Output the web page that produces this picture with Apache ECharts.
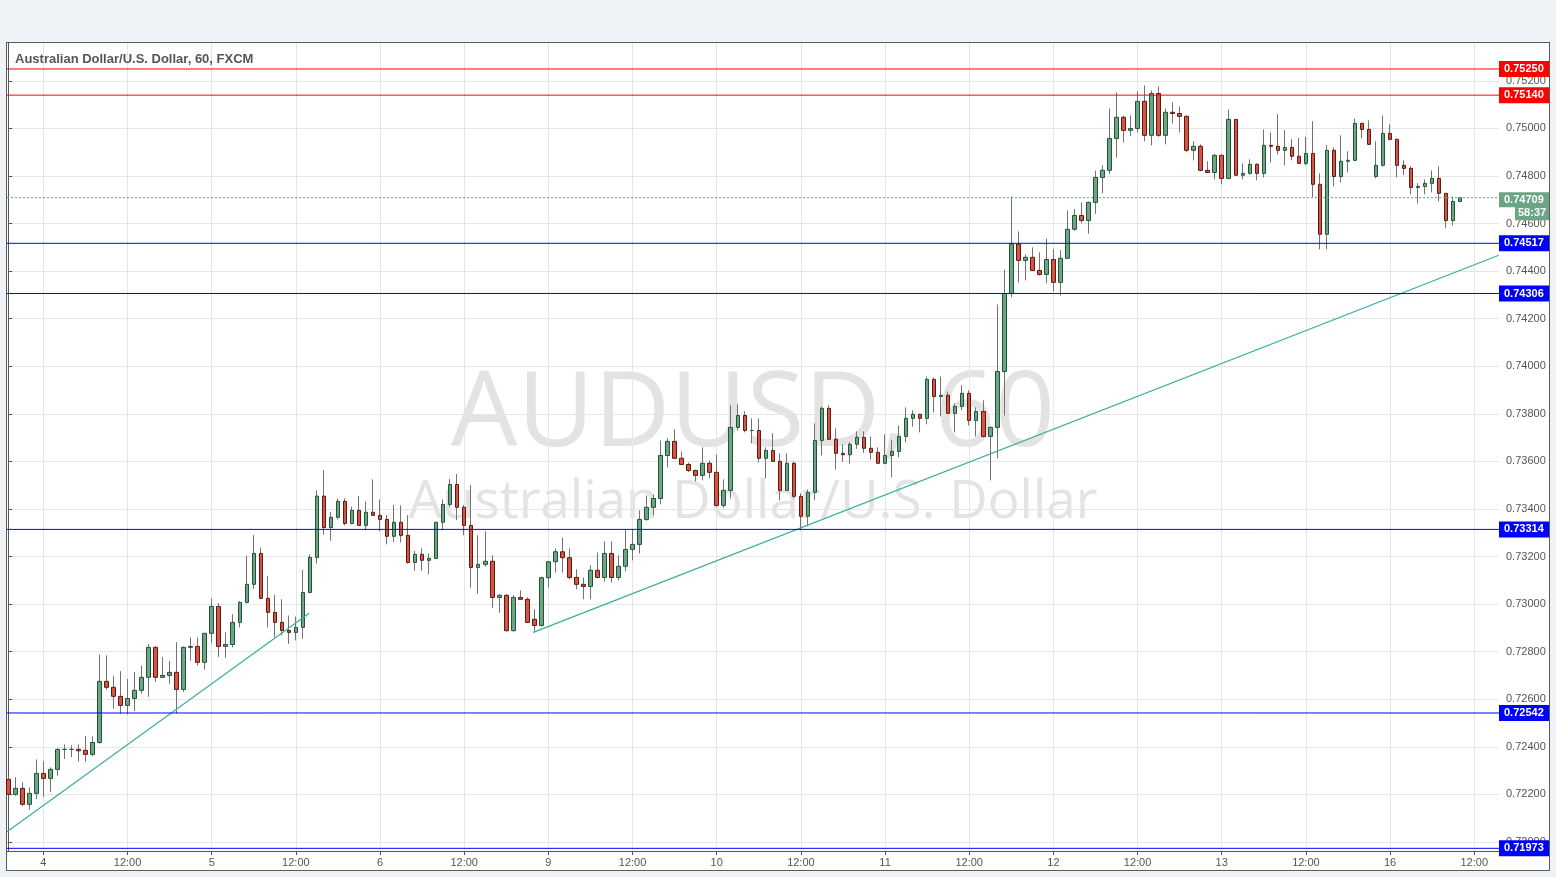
<!DOCTYPE html>
<html>
<head>
<meta charset="utf-8">
<script src="https://cdn.jsdelivr.net/npm/echarts@6/dist/echarts.min.js"></script>
<style>
html,body{margin:0;padding:0;background:#eff2f6;}
#frame{position:absolute;left:6px;top:42px;width:1544px;height:829px;border:1px solid #5a5a5a;box-sizing:border-box;background:#fff;}
#chart{position:absolute;left:0;top:0;width:1556px;height:877px;}
</style>
</head>
<body>
<div id="frame"></div>
<div id="chart"></div>
<script>
// ---- data (hourly AUD/USD candles, index 0 = first visible bar) ----
const opens = [
0.72263,0.72200,0.72225,0.72158,0.72204,0.72288,0.72267,0.72305,0.72389,0.72389,
0.72389,0.72385,0.72368,0.72418,0.72675,0.72650,0.72612,0.72574,0.72603,0.72637,
0.72692,0.72818,0.72692,0.72700,0.72713,0.72641,0.72818,0.72822,0.72755,0.72877,
0.72990,0.72822,0.72830,0.72923,0.73007,0.73083,0.73213,0.73024,0.72965,0.72923,
0.72889,0.72881,0.72902,0.73049,0.73196,0.73454,0.73322,0.73365,0.73432,0.73339,
0.73394,0.73331,0.73386,0.73373,0.73356,0.73285,0.73344,0.73289,0.73175,0.73209,
0.73184,0.73192,0.73344,0.73419,0.73503,0.73407,0.73331,0.73154,0.73167,0.73180,
0.73028,0.73037,0.72888,0.73028,0.73020,0.72936,0.72910,0.73111,0.73178,0.73220,
0.73195,0.73112,0.73083,0.73074,0.73142,0.73112,0.73213,0.73112,0.73159,0.73230,
0.73251,0.73356,0.73407,0.73444,0.73625,0.73684,0.73613,0.73587,0.73562,0.73541,
0.73592,0.73554,0.73415,0.73478,0.73743,0.73793,0.73730,0.73730,0.73613,0.73646,
0.73600,0.73478,0.73592,0.73453,0.73369,0.73470,0.73688,0.73823,0.73693,0.73634,
0.73628,0.73672,0.73701,0.73655,0.73638,0.73592,0.73625,0.73642,0.73705,0.73781,
0.73798,0.73781,0.73945,0.73873,0.73878,0.73802,0.73831,0.73886,0.73772,0.73810,
0.73705,0.73743,0.73978,0.74306,0.74514,0.74445,0.74458,0.74403,0.74386,0.74449,
0.74353,0.74454,0.74576,0.74634,0.74613,0.74689,0.74794,0.74824,0.74958,0.75047,
0.74992,0.75000,0.75114,0.74971,0.75147,0.74971,0.75068,0.75063,0.75051,0.74908,
0.74925,0.74824,0.74815,0.74887,0.74790,0.75038,0.74803,0.74811,0.74849,0.74811,
0.74929,0.74925,0.74908,0.74920,0.74883,0.74853,0.74895,0.74765,0.74555,0.74908,
0.74798,0.74862,0.74866,0.75021,0.74996,0.74798,0.74845,0.74979,0.74954,0.74845,
0.74832,0.74752,0.74756,0.74769,0.74790,0.74727,0.74613,0.74693
];
const closes = [
0.72200,0.72225,0.72158,0.72204,0.72288,0.72267,0.72305,0.72389,0.72389,0.72389,
0.72383,0.72368,0.72418,0.72675,0.72650,0.72612,0.72574,0.72603,0.72637,0.72692,
0.72818,0.72692,0.72700,0.72713,0.72641,0.72818,0.72822,0.72755,0.72877,0.72990,
0.72822,0.72830,0.72923,0.73007,0.73083,0.73213,0.73024,0.72965,0.72923,0.72889,
0.72881,0.72902,0.73049,0.73196,0.73454,0.73322,0.73365,0.73432,0.73339,0.73394,
0.73331,0.73386,0.73373,0.73356,0.73285,0.73344,0.73289,0.73175,0.73209,0.73184,
0.73192,0.73344,0.73419,0.73503,0.73407,0.73331,0.73154,0.73167,0.73180,0.73028,
0.73037,0.72888,0.73028,0.73020,0.72923,0.72910,0.73111,0.73178,0.73220,0.73195,
0.73112,0.73083,0.73074,0.73142,0.73112,0.73213,0.73112,0.73159,0.73230,0.73251,
0.73356,0.73407,0.73444,0.73625,0.73684,0.73613,0.73587,0.73562,0.73541,0.73592,
0.73554,0.73415,0.73478,0.73743,0.73793,0.73730,0.73730,0.73613,0.73646,0.73600,
0.73478,0.73592,0.73453,0.73369,0.73470,0.73688,0.73823,0.73693,0.73634,0.73628,
0.73672,0.73701,0.73655,0.73638,0.73592,0.73625,0.73642,0.73705,0.73781,0.73798,
0.73781,0.73945,0.73873,0.73878,0.73802,0.73831,0.73886,0.73772,0.73810,0.73705,
0.73743,0.73978,0.74306,0.74514,0.74445,0.74458,0.74403,0.74386,0.74449,0.74353,
0.74454,0.74576,0.74634,0.74613,0.74689,0.74794,0.74824,0.74958,0.75047,0.74992,
0.75000,0.75114,0.74971,0.75147,0.74971,0.75068,0.75063,0.75051,0.74908,0.74925,
0.74824,0.74815,0.74887,0.74790,0.75038,0.74803,0.74811,0.74849,0.74811,0.74929,
0.74925,0.74908,0.74920,0.74883,0.74853,0.74895,0.74765,0.74555,0.74908,0.74798,
0.74862,0.74866,0.75021,0.74996,0.74933,0.74845,0.74979,0.74954,0.74845,0.74832,
0.74752,0.74756,0.74769,0.74790,0.74727,0.74613,0.74693,0.74709
];
const highs = [
0.72277,0.72272,0.72251,0.72229,0.72347,0.72339,0.72313,0.72394,0.72410,0.72406,
0.72410,0.72445,0.72444,0.72788,0.72784,0.72697,0.72718,0.72685,0.72714,0.72742,
0.72832,0.72822,0.72777,0.72760,0.72840,0.72822,0.72860,0.72860,0.72878,0.73024,
0.73003,0.72881,0.72957,0.73012,0.73203,0.73290,0.73238,0.73119,0.73039,0.73020,
0.72952,0.72948,0.73143,0.73209,0.73479,0.73563,0.73388,0.73444,0.73444,0.73409,
0.73454,0.73432,0.73524,0.73440,0.73375,0.73416,0.73415,0.73374,0.73224,0.73234,
0.73213,0.73344,0.73440,0.73526,0.73547,0.73416,0.73500,0.73289,0.73306,0.73205,
0.73041,0.73041,0.73037,0.73058,0.73028,0.72978,0.73115,0.73180,0.73234,0.73279,
0.73234,0.73146,0.73112,0.73163,0.73217,0.73264,0.73264,0.73205,0.73314,0.73314,
0.73394,0.73457,0.73461,0.73688,0.73697,0.73735,0.73642,0.73595,0.73565,0.73659,
0.73604,0.73629,0.73524,0.73836,0.73840,0.73810,0.73781,0.73781,0.73659,0.73718,
0.73634,0.73634,0.73600,0.73466,0.73482,0.73760,0.73831,0.73836,0.73739,0.73672,
0.73680,0.73726,0.73726,0.73705,0.73659,0.73714,0.73690,0.73751,0.73827,0.73815,
0.73800,0.73957,0.73953,0.73957,0.73894,0.73844,0.73920,0.73899,0.73827,0.73857,
0.73747,0.74260,0.74406,0.74714,0.74567,0.74470,0.74500,0.74479,0.74538,0.74492,
0.74488,0.74655,0.74661,0.74689,0.74692,0.74822,0.74845,0.75084,0.75152,0.75054,
0.75055,0.75156,0.75181,0.75160,0.75177,0.75084,0.75110,0.75093,0.75055,0.74946,
0.74933,0.74862,0.74891,0.74891,0.75080,0.75040,0.74853,0.74870,0.74853,0.74996,
0.74983,0.75060,0.74993,0.74955,0.74960,0.74964,0.75031,0.74811,0.74930,0.74920,
0.74971,0.74904,0.75042,0.75025,0.75034,0.74946,0.75055,0.75017,0.74958,0.74866,
0.74841,0.74769,0.74786,0.74824,0.74841,0.74727,0.74714,0.74712
];
const lows = [
0.72197,0.72194,0.72152,0.72135,0.72181,0.72190,0.72211,0.72278,0.72349,0.72357,
0.72337,0.72337,0.72361,0.72413,0.72640,0.72561,0.72539,0.72536,0.72551,0.72623,
0.72610,0.72673,0.72689,0.72665,0.72540,0.72631,0.72762,0.72741,0.72724,0.72837,
0.72778,0.72774,0.72818,0.72902,0.73003,0.73064,0.73020,0.72902,0.72860,0.72868,
0.72832,0.72847,0.72854,0.73045,0.73171,0.73293,0.73266,0.73356,0.73331,0.73335,
0.73328,0.73310,0.73371,0.73306,0.73251,0.73261,0.73259,0.73170,0.73140,0.73140,
0.73125,0.73189,0.73310,0.73409,0.73353,0.73289,0.73069,0.73043,0.73157,0.72984,
0.72963,0.72885,0.72885,0.73018,0.72920,0.72881,0.72905,0.73070,0.73132,0.73132,
0.73104,0.73062,0.73020,0.73020,0.73110,0.73095,0.73091,0.73100,0.73138,0.73184,
0.73213,0.73350,0.73373,0.73419,0.73575,0.73610,0.73585,0.73555,0.73516,0.73520,
0.73529,0.73410,0.73405,0.73444,0.73730,0.73722,0.73676,0.73596,0.73529,0.73598,
0.73436,0.73476,0.73444,0.73310,0.73327,0.73436,0.73625,0.73690,0.73566,0.73598,
0.73590,0.73653,0.73636,0.73608,0.73590,0.73588,0.73533,0.73617,0.73680,0.73746,
0.73722,0.73756,0.73806,0.73789,0.73798,0.73722,0.73815,0.73751,0.73705,0.73701,
0.73520,0.73613,0.73793,0.74290,0.74353,0.74361,0.74400,0.74382,0.74349,0.74315,
0.74297,0.74552,0.74570,0.74601,0.74557,0.74641,0.74727,0.74809,0.74877,0.74941,
0.74967,0.74983,0.74946,0.74929,0.74965,0.74933,0.75021,0.74983,0.74900,0.74866,
0.74820,0.74812,0.74786,0.74765,0.74786,0.74800,0.74786,0.74806,0.74782,0.74794,
0.74857,0.74891,0.74845,0.74866,0.74850,0.74845,0.74710,0.74492,0.74492,0.74756,
0.74773,0.74815,0.74862,0.74958,0.74930,0.74790,0.74840,0.74950,0.74794,0.74803,
0.74723,0.74685,0.74723,0.74731,0.74693,0.74580,0.74592,0.74690
];

// time axis ticks (bar index -> label)
const xTickIndex = [5,17,29,41,53,65,77,89,101,113,125,137,149,161,173,185,197,209];
const xTickLabels = ['4','12:00','5','12:00','6','12:00','9','12:00','10','12:00','11','12:00','12','12:00','13','12:00','16','12:00'];
// price axis ticks
const yTicks = [0.720,0.722,0.724,0.726,0.728,0.730,0.732,0.734,0.736,0.738,0.740,0.742,0.744,0.746,0.748,0.750,0.752];
// horizontal levels
const resistanceLevels = [0.75250, 0.75140];
const supportLevels = [0.74517, 0.74306, 0.73314, 0.72542, 0.71973];
// trend lines: [[barIndex, price], [barIndex, price]]
const trendLines = [
  [[-0.18, 0.72043], [42.9, 0.72961]],
  [[74.85, 0.72881], [212.5, 0.74467]]
];
const lastPrice = closes[closes.length - 1];
const countdown = '58:37';
const chartTitle = 'Australian Dollar/U.S. Dollar, 60, FXCM';
const watermark1 = 'AUDUSD, 60';
const watermark2 = 'Australian Dollar/U.S. Dollar';
const xRange = [-0.185, 212.53];
const yRange = [0.719617, 0.753593];

// ---- build ----
const FONT = '"Liberation Sans", Arial, sans-serif';
const wickData = opens.map((o, i) => [i, o, closes[i], lows[i], highs[i]]);
const bodyData = opens.map((o, i) => [i, o, closes[i], Math.min(o, closes[i]), Math.max(o, closes[i])]);

function boxLabel(v, color) {
  return {
    show: true, distance: 0,
    formatter: v.toFixed(5),
    color: '#fff', fontWeight: 'bold', fontSize: 11, fontFamily: FONT,
    backgroundColor: color, padding: [2, 4, 2, 5], lineHeight: 12, width: 41
  };
}
function levelSeries(v, lineStyle, endLabel, z) {
  return {
    type: 'line', data: [[xRange[0], v], [xRange[1], v]],
    symbol: 'none', silent: true, animation: false, z: z || 5, clip: false,
    lineStyle: lineStyle, endLabel: endLabel, labelLayout: { hideOverlap: false }
  };
}

const levelSeriesList = []
  .concat(resistanceLevels.map(v => levelSeries(v, { color: '#ff0000', width: 1, type: 'solid' }, boxLabel(v, '#ff0000'))))
  .concat(supportLevels.map(v => levelSeries(v, { color: '#0000ff', width: 1, type: 'solid' }, boxLabel(v, '#0000ff'))));

levelSeriesList.push(levelSeries(lastPrice, { color: '#6ba583', width: 1, type: [2, 2] }, {
  show: true, distance: 0,
  formatter: '{e| }\n{a|' + lastPrice.toFixed(5) + '}\n{s| }{b|' + countdown + '}',
  rich: {
    e: { lineHeight: 17, fontSize: 11 },
    a: { backgroundColor: '#6ba583', color: '#fff', fontWeight: 'bold', fontSize: 11, fontFamily: FONT,
         padding: [2, 4, 2, 5], lineHeight: 13, width: 41 },
    s: { width: 16, fontSize: 11, lineHeight: 13 },
    b: { backgroundColor: '#6ba583', color: '#fff', fontWeight: 'bold', fontSize: 11, fontFamily: FONT,
         padding: [2, 3, 2, 3], lineHeight: 13, width: 28 }
  }
}, 6));

const trendSeriesList = trendLines.map(t => ({
  type: 'line', data: [t[0], t[1]], symbol: 'none', silent: true, animation: false, z: 5,
  lineStyle: { color: '#3aae9c', width: 1.2, type: 'solid' }
}));

const chart = echarts.init(document.getElementById('chart'), null, { renderer: 'canvas' });
const option = {
  animation: false,
  backgroundColor: 'transparent',
  graphic: [
    { type: 'text', x: 753, y: 416, z: -10, silent: true,
      style: { text: watermark1, font: '105px "Open Sans", sans-serif', fill: '#e3e3e3',
               textAlign: 'center', textVerticalAlign: 'middle', align: 'center', verticalAlign: 'middle' } },
    { type: 'text', x: 753, y: 503, z: -10, silent: true,
      style: { text: watermark2, font: '53px "Open Sans", sans-serif', fill: '#e3e3e3',
               textAlign: 'center', textVerticalAlign: 'middle', align: 'center', verticalAlign: 'middle' } },
    { type: 'text', x: 15, y: 53, z: 10, silent: true,
      style: { text: chartTitle, font: 'bold 13px "Liberation Sans", Arial, sans-serif', fill: '#555',
               textVerticalAlign: 'top', verticalAlign: 'top' } }
  ],
  grid: { left: 7, top: 43, width: 1492, height: 808, containLabel: false, outerBoundsMode: 'none' },
  xAxis: {
    type: 'value', min: xRange[0], max: xRange[1],
    axisLine: { show: true, lineStyle: { color: '#555', width: 1 } },
    axisTick: { show: true, customValues: xTickIndex, length: 4, lineStyle: { color: '#555' } },
    axisLabel: {
      show: true, customValues: xTickIndex, color: '#555', fontSize: 11, fontFamily: FONT, margin: 6,
      formatter: function (v) { const k = xTickIndex.indexOf(Math.round(v)); return k >= 0 ? xTickLabels[k] : ''; }
    },
    splitLine: { show: true, lineStyle: { color: '#e6e6e6', width: 1 } }
  },
  yAxis: {
    type: 'value', position: 'right', min: yRange[0], max: yRange[1], scale: true,
    axisLine: { show: true, lineStyle: { color: '#555', width: 1 } },
    axisTick: { show: true, customValues: yTicks, length: 4, lineStyle: { color: '#555' } },
    axisLabel: {
      show: true, customValues: yTicks, color: '#555', fontSize: 11, fontFamily: FONT, margin: 7,
      formatter: function (v) { return v.toFixed(5); }
    },
    splitLine: { show: true, lineStyle: { color: '#e6e6e6', width: 1 } }
  },
  series: [
    {
      name: 'wick', type: 'candlestick', data: wickData, barWidth: 1, z: 2, silent: true,
      itemStyle: { color: '#737375', color0: '#737375', borderColor: '#737375', borderColor0: '#737375',
                   borderColorDoji: '#737375', borderWidth: 1 }
    },
    {
      name: 'body', type: 'candlestick', data: bodyData, barWidth: 4, z: 3, silent: true,
      itemStyle: { color: '#6ba583', color0: '#d75442', borderColor: '#225437', borderColor0: '#5b1a13',
                   borderColorDoji: '#225437', borderWidth: 1 }
    }
  ].concat(trendSeriesList).concat(levelSeriesList)
};
chart.setOption(option);
</script>
</body>
</html>
